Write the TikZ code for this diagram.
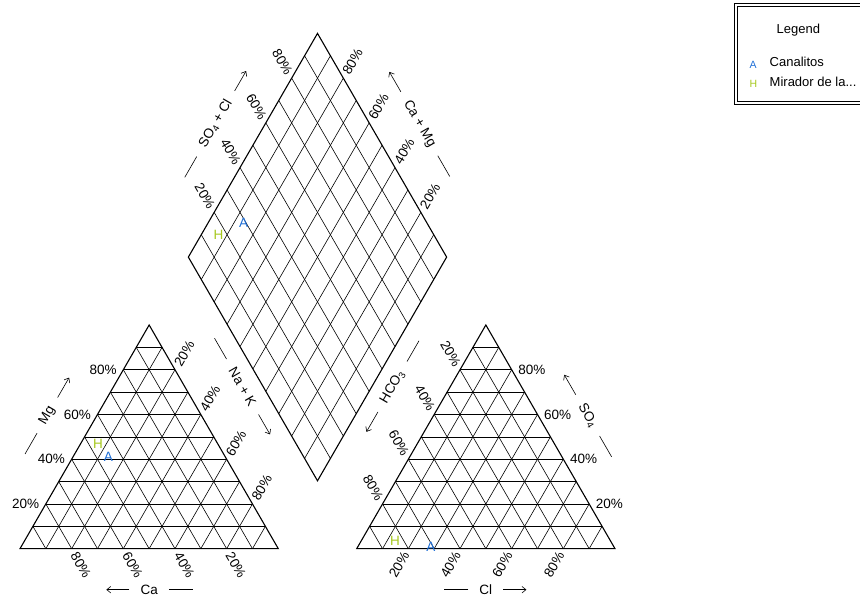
\documentclass[tikz,border=0pt]{standalone}
\usepackage{fontspec}
\setmainfont{Liberation Sans}
\usetikzlibrary{calc,arrows.meta}
\definecolor{ptA}{RGB}{31,111,214}
\definecolor{ptH}{RGB}{166,200,30}
\tikzset{
  gridline/.style={line width=0.6pt},
  edge/.style={line width=1.1pt, line join=miter},
  pct/.style={font=\fontsize{13.5}{16}\selectfont, inner sep=1pt},
  axis/.style={font=\fontsize{13.5}{16}\selectfont, inner sep=1pt},
  sample/.style={font=\fontsize{13.5}{16}\selectfont, inner sep=0pt},
  legtext/.style={font=\fontsize{13}{15}\selectfont, inner sep=0pt},
  legmark/.style={font=\fontsize{10.5}{12}\selectfont, inner sep=0pt},
}
\newcommand{\titlearrows}[2]{%
  \draw[line width=0.6pt] ($(#2)!-10pt!(#1)$) -- ($(#2)!-34pt!(#1)$);
  \draw[line width=0.6pt,-{Straight Barb[length=4pt,width=6.5pt]}] ($(#1)!-10pt!(#2)$) -- ($(#1)!-33pt!(#2)$);}

\begin{document}
\begin{tikzpicture}[x=1pt,y=1pt]
\useasboundingbox (0,0) rectangle (860,600);
\begin{scope}[shift={(20,51.3)},x={(258.3pt,0pt)},y={(129.15pt,223.7pt)}]
  \foreach \i in {1,...,9}{
    \draw[gridline] (0,\i/10) -- (1-\i/10,\i/10);
    \draw[gridline] (\i/10,0) -- (\i/10,1-\i/10);
    \draw[gridline] (0,\i/10) -- (\i/10,0);
  }
  \draw[edge] (0,0) -- (1,0) -- (0,1) -- cycle;
  \foreach \p in {20,40,60,80}{
    \node[pct,anchor=east] at ($(0,\p/100)+(-5.5pt,0pt)$) {\p\%};
    \node[pct,rotate=-60,anchor=west] at ($(1-\p/100,0)+(-60:4pt)$) {\p\%};
    \node[pct,rotate=60,anchor=west] at ($(\p/100,1-\p/100)+(60:4pt)$) {\p\%};
  }
  \node[axis,rotate=60] (mg) at ($(0,0.5)+(150:43pt)$) {Mg};
  \node[axis] (ca) at ($(0.5,0)+(0pt,-41pt)$) {Ca};
  \node[axis,rotate=-60] (nak) at ($(0.5,0.5)+(30:50pt)+(120:29pt)$) {Na + K};
  \node[sample,text=ptA] (catA) at (0.137,0.411) {A};
  \node[sample,text=ptH] (catH) at (0.068,0.467) {H};
\end{scope}
\begin{scope}[shift={(356.7,51.3)},x={(258.3pt,0pt)},y={(129.15pt,223.7pt)}]
  \foreach \i in {1,...,9}{
    \draw[gridline] (0,\i/10) -- (1-\i/10,\i/10);
    \draw[gridline] (\i/10,0) -- (\i/10,1-\i/10);
    \draw[gridline] (0,\i/10) -- (\i/10,0);
  }
  \draw[edge] (0,0) -- (1,0) -- (0,1) -- cycle;
  \foreach \p in {20,40,60,80}{
    \node[pct,anchor=west] at ($(1-\p/100,\p/100)+(5.5pt,0pt)$) {\p\%};
    \node[pct,rotate=60,anchor=east] at ($(\p/100,0)+(240:4pt)$) {\p\%};
    \node[pct,rotate=-60,anchor=east] at ($(0,1-\p/100)+(120:4pt)$) {\p\%};
  }
  \node[axis,rotate=-60] (so) at ($(0.5,0.5)+(30:43pt)$) {SO\textsubscript{4}};
  \node[axis] (cl) at ($(0.5,0)+(0pt,-41pt)$) {Cl};
  \node[axis,rotate=60] (hco) at ($(0,0.5)+(150:50pt)+(60:29pt)$) {HCO\textsubscript{3}};
  \node[sample,text=ptA] (anA) at (0.283,0.008) {A};
  \node[sample,text=ptH] (anH) at (0.130,0.036) {H};
\end{scope}
\begin{scope}[shift={(317.5,119.2)},x={(129.15pt,223.7pt)},y={(-129.15pt,223.7pt)}]
  \foreach \i in {1,...,9}{
    \draw[gridline] (\i/10,0) -- (\i/10,1);
    \draw[gridline] (0,\i/10) -- (1,\i/10);
  }
  \draw[edge] (0,0) -- (1,0) -- (1,1) -- (0,1) -- cycle;
  \foreach \p in {20,40,60,80}{
    \node[pct,rotate=-60,anchor=east] at ($(\p/100,1)+(120:4pt)$) {\p\%};
    \node[pct,rotate=60,anchor=west] at ($(1,\p/100)+(60:4pt)$) {\p\%};
  }
  \node[axis,rotate=60] (socl) at ($(0.5,1)+(150:43pt)$) {SO\textsubscript{4} + Cl};
  \node[axis,rotate=-60] (camg) at ($(1,0.5)+(30:43pt)$) {Ca + Mg};
  \node[sample,text=ptA] (dmA) at (0.291,0.863) {A};
  \node[sample,text=ptH] (dmH) at (0.166,0.932) {H};
\end{scope}
\titlearrows{mg.east}{mg.west}
\titlearrows{ca.west}{ca.east}
\titlearrows{nak.east}{nak.west}
\titlearrows{hco.west}{hco.east}
\titlearrows{so.west}{so.east}
\titlearrows{cl.east}{cl.west}
\titlearrows{socl.east}{socl.west}
\titlearrows{camg.west}{camg.east}
\draw[double, double distance=1.8pt, line width=0.8pt] (736,595) rectangle (866,497);
\node[legtext,anchor=base] (leg) at (798.3,566.7) {Legend};
\node[legmark,text=ptA,anchor=base] (legA) at (753,531.7) {A};
\node[legtext,anchor=base west] (legCan) at (769.5,533.3) {Canalitos};
\node[legmark,text=ptH,anchor=base] (legH) at (753.5,512.3) {H};
\node[legtext,anchor=base west] (legMir) at (769.5,513.3) {Mirador de la...};
\end{tikzpicture}
\end{document}
